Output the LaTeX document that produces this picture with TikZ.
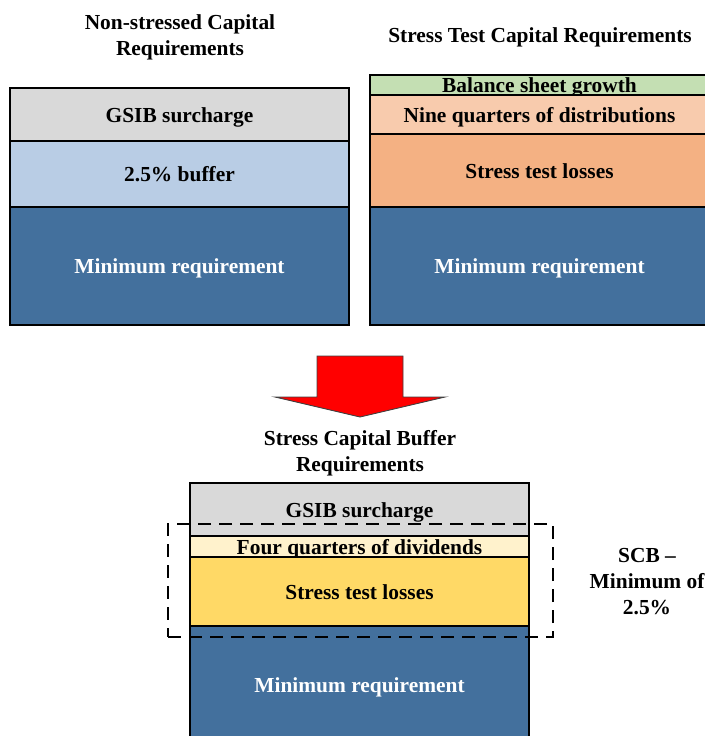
\documentclass[tikz,border=0pt]{standalone}
\usepackage{fontspec}
\setmainfont{Liberation Serif}
\usetikzlibrary{positioning}

\definecolor{gsibgray}{HTML}{D9D9D9}
\definecolor{bufferblue}{HTML}{B9CDE5}
\definecolor{minblue}{HTML}{43709D}
\definecolor{growthgreen}{HTML}{C4DFB3}
\definecolor{distpeach}{HTML}{F8CBAD}
\definecolor{lossorange}{HTML}{F4B183}
\definecolor{divcream}{HTML}{FFF2CC}
\definecolor{lossyellow}{HTML}{FFD966}

\begin{document}
\begin{tikzpicture}[x=1pt, y=-1pt,
		layer/.style={draw, rectangle, line width=1.5pt, minimum width=339pt,
		inner sep=0pt, outer sep=0pt, text height=16pt, text depth=1pt,
		font=\fontsize{21.4}{26}\selectfont\bfseries},
		heading/.style={align=center, inner sep=0pt,
		font=\fontsize{21.4}{26}\selectfont\bfseries}]

			\useasboundingbox (0,0) rectangle (704,736);

			\node [heading] (plainhead) at (180,37.5) {Non-stressed Capital\\Requirements};
			\node [heading] (stresshead) at (540,37) {Stress Test Capital Requirements};

			\node [layer, fill=gsibgray, minimum height=53pt, anchor=north west]
			(gsibL) at (10,88) {GSIB surcharge};
			\node [layer, fill=bufferblue, minimum height=66pt, below=0pt of gsibL]
			(bufferL) {2.5\% buffer};
			\node [layer, fill=minblue, text=white, minimum height=118pt,
			below=0pt of bufferL] (minL) {Minimum requirement};

			\node [layer, fill=growthgreen, minimum height=20pt, anchor=north west]
			(growthR) at (370,75) {Balance sheet growth};
			\node [layer, fill=distpeach, minimum height=39pt, below=0pt of growthR]
			(distR) {Nine quarters of distributions};
			\node [layer, fill=lossorange, minimum height=73pt, below=0pt of distR]
			(lossR) {Stress test losses};
			\node [layer, fill=minblue, text=white, minimum height=118pt,
			below=0pt of lossR] (minR) {Minimum requirement};

			\draw [line width=0.9pt, draw=black!75, fill=red]
				(317,356) -- (403,356) -- (403,397) -- (445,397) -- (360,417)
				-- (275,397) -- (317,397) -- cycle;

			\node [heading] (scbhead) at (360,453.5) {Stress Capital Buffer\\Requirements};

			\node [layer, fill=gsibgray, minimum height=53pt, anchor=north west]
			(gsibB) at (190,483) {GSIB surcharge};
			\node [layer, fill=divcream, minimum height=21pt, below=0pt of gsibB]
			(divB) {Four quarters of dividends};
			\node [layer, fill=lossyellow, minimum height=69pt, below=0pt of divB]
			(lossB) {Stress test losses};
			\node [layer, fill=minblue, text=white, minimum height=118pt,
			below=0pt of lossB] (minB) {Minimum requirement};

			\node [draw, rectangle, line width=2pt, dash pattern=on 13pt off 8pt,
			minimum width=385pt, minimum height=113pt, inner sep=0pt]
			(scbzone) at (360.5,580.5) {};

			\node [heading, right=35.5pt of scbzone, yshift=-1.5pt] (scblabel)
			{SCB --\\Minimum of\\2.5\%};
		\end{tikzpicture}
\end{document}
